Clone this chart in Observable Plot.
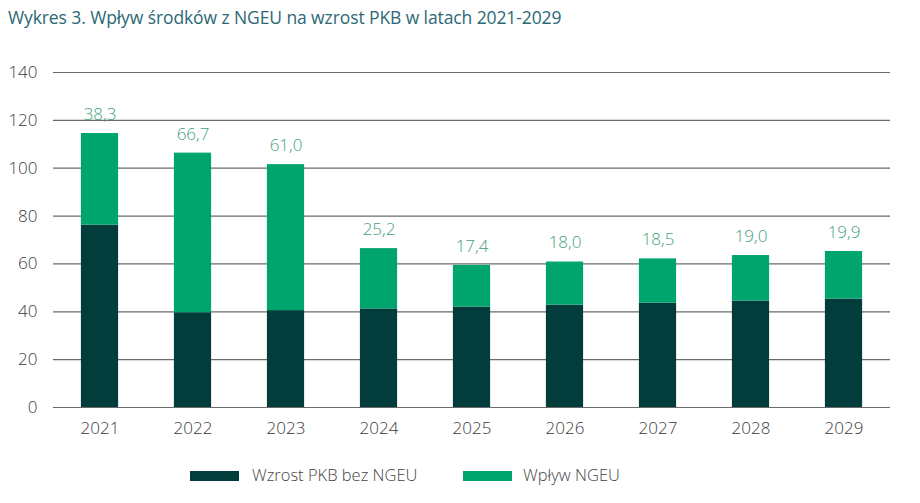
<!DOCTYPE html>
<html><head><meta charset="utf-8">
<script src="https://cdn.jsdelivr.net/npm/d3@7"></script>
<script src="https://cdn.jsdelivr.net/npm/@observablehq/plot@0.6"></script>
<style>
body{margin:0;background:#fff;font-family:"Open Sans",sans-serif;}
#title{position:absolute;left:8px;top:5px;font-size:17.5px;color:#2b6874;font-weight:400;letter-spacing:-0.1px}
#chart{position:absolute;left:0;top:40px}
#legend{position:absolute;top:465px;left:0;width:920px;font-size:16.5px;color:#444;font-weight:300}
.sw{position:absolute;top:6px;width:49px;height:10px}
.lt{position:absolute;top:-2px}
</style></head><body>
<div id="title">Wykres 3. Wpływ środków z NGEU na wzrost PKB w latach 2021-2029</div>
<div id="chart"></div>
<div id="legend">
<div class="sw" style="left:190px;background:#023d3c"></div><div class="lt" style="left:252px">Wzrost PKB bez NGEU</div>
<div class="sw" style="left:463px;background:#00a56e"></div><div class="lt" style="left:523px">Wpływ NGEU</div>
</div>
<script>
const years = ["2021","2022","2023","2024","2025","2026","2027","2028","2029"];
const base = [76.2, 39.6, 40.5, 41.2, 42.0, 42.8, 43.6, 44.5, 45.3];
const ngeu = [38.3, 66.7, 61.0, 25.2, 17.4, 18.0, 18.5, 19.0, 19.9];
const seriesNames = ["Wzrost PKB bez NGEU", "Wpływ NGEU"];
const colors = ["#023d3c", "#00a56e"];

const rows = [];
years.forEach((y, i) => {
  rows.push({year: y, series: seriesNames[0], value: base[i]});
  rows.push({year: y, series: seriesNames[1], value: ngeu[i]});
});
const totals = years.map((y, i) => ({year: y, total: base[i] + ngeu[i], label: ngeu[i].toFixed(1).replace(".", ",")}));

const chart = Plot.plot({
  width: 920,
  height: 410,
  marginTop: 32,
  marginBottom: 43,
  marginLeft: 53,
  marginRight: 30,
  style: {fontFamily: "Open Sans, sans-serif", fontSize: "17px", fontWeight: 300, color: "#3a3a3a", background: "#fff"},
  x: {domain: years, paddingInner: 0.6, paddingOuter: 0.3, round: false, label: null, tickSize: 0, tickPadding: 14},
  y: {domain: [0, 140], ticks: d3.range(0, 141, 20), label: null, tickSize: 0, tickPadding: 16},
  color: {domain: seriesNames, range: colors},
  marks: [
    Plot.ruleY(d3.range(0, 141, 20), {stroke: "#6b6b6b", strokeWidth: 1.2}),
    Plot.barY(rows, {x: "year", y: "value", fill: "series", order: seriesNames}),
    Plot.text(totals, {x: "year", y: "total", text: "label", dy: -19, fill: "#45a07c", fontSize: 17, fontWeight: 300})
  ]
});
document.getElementById("chart").appendChild(chart);
</script>
</body></html>
